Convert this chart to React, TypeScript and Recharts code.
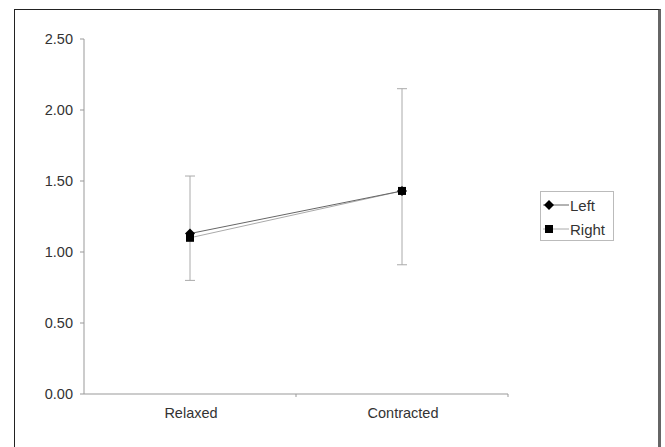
import React from "react";
import { LineChart, Line, XAxis, YAxis, ErrorBar } from "recharts";

const categories = ["Relaxed", "Contracted"];
const leftValues = [1.13, 1.43];
const rightValues = [1.1, 1.43];
const errLower = [0.3, 0.52];
const errUpper = [0.435, 0.72];
const yTicks = [0, 0.5, 1, 1.5, 2, 2.5];

const data = categories.map((name, i) => ({
  name,
  x: i + 0.5,
  left: leftValues[i],
  right: rightValues[i],
  err: [errLower[i], errUpper[i]],
}));

const xTicks = [0.5, 1, 1.5, 2];

const XTick = (props: any) => {
  const { x, y, payload } = props;
  const v = payload.value;
  if (Number.isInteger(v)) {
    return <line x1={x} x2={x} y1={y} y2={y + 3} stroke="#999" />;
  }
  const label = categories[Math.floor(v)];
  return (
    <text x={x + 1} y={y + 19} textAnchor="middle" dominantBaseline="central" fontSize={14.5} fill="#333">
      {label}
    </text>
  );
};

const Diamond = (props: any) => {
  const { cx, cy } = props;
  if (cx == null) return null;
  return <polygon points={`${cx},${cy - 5} ${cx + 5},${cy} ${cx},${cy + 5} ${cx - 5},${cy}`} fill="#000" />;
};

const Square = (props: any) => {
  const { cx, cy } = props;
  if (cx == null) return null;
  return <rect x={cx - 4} y={cy - 4} width={8} height={8} fill="#000" />;
};

const LegendBox = () => (
  <div
    style={{
      position: "absolute",
      left: 540,
      top: 191,
      width: 72,
      height: 48,
      border: "1px solid #bbb",
      background: "#fff",
      fontFamily: "'Liberation Sans', Arial, sans-serif",
      fontSize: 15,
      color: "#333",
    }}
  >
    <div style={{ display: "flex", alignItems: "center", height: 26 }}>
      <svg width={29} height={12} style={{ flex: "none" }}>
        <line x1={2} x2={28} y1={6} y2={6} stroke="#666" />
        <polygon points="8,1 13,6 8,11 3,6" fill="#000" />
      </svg>
      <span>Left</span>
    </div>
    <div style={{ display: "flex", alignItems: "center", height: 22 }}>
      <svg width={29} height={12} style={{ flex: "none" }}>
        <line x1={2} x2={28} y1={6} y2={6} stroke="#aaa" />
        <rect x={4} y={2} width={8} height={8} fill="#000" />
      </svg>
      <span>Right</span>
    </div>
  </div>
);

export default function App() {
  return (
    <div
      style={{
        position: "fixed",
        left: 0,
        top: 0,
        width: 665,
        height: 447,
        background: "#fff",
        overflow: "hidden",
        fontFamily: "'Liberation Sans', Arial, sans-serif",
      }}
    >
      <div
        style={{
          position: "absolute",
          left: 14,
          top: 9,
          width: 643,
          height: 460,
          borderTop: "1px solid #222",
          borderLeft: "1px solid #222",
          borderRight: "3px solid #666",
        }}
      />
      <div style={{ position: "absolute", left: 0, top: 0 }}>
        <LineChart width={665} height={447} data={data} margin={{ top: 39, right: 157, bottom: 23, left: 24 }}>
          <XAxis
            dataKey="x"
            type="number"
            domain={[0, 2]}
            ticks={xTicks}
            tick={<XTick />}
            tickLine={false}
            tickSize={0}
            tickMargin={0}
            height={30}
            stroke="#999"
            interval={0}
          />
          <YAxis
            domain={[0, 2.5]}
            ticks={yTicks}
            tickFormatter={(v: number) => v.toFixed(2)}
            width={60}
            tickSize={4}
            tickMargin={7}
            stroke="#999"
            tick={{ fill: "#333", fontSize: 14.5 }}
          />
          <Line
            dataKey="right"
            stroke="#aaa"
            strokeWidth={1}
            dot={<Square />}
            isAnimationActive={false}
          >
            <ErrorBar dataKey="err" width={5} stroke="#aaa" strokeWidth={1} direction="y" />
          </Line>
          <Line
            dataKey="left"
            stroke="#666"
            strokeWidth={1}
            dot={<Diamond />}
            isAnimationActive={false}
          />
        </LineChart>
      </div>
      <LegendBox />
    </div>
  );
}
